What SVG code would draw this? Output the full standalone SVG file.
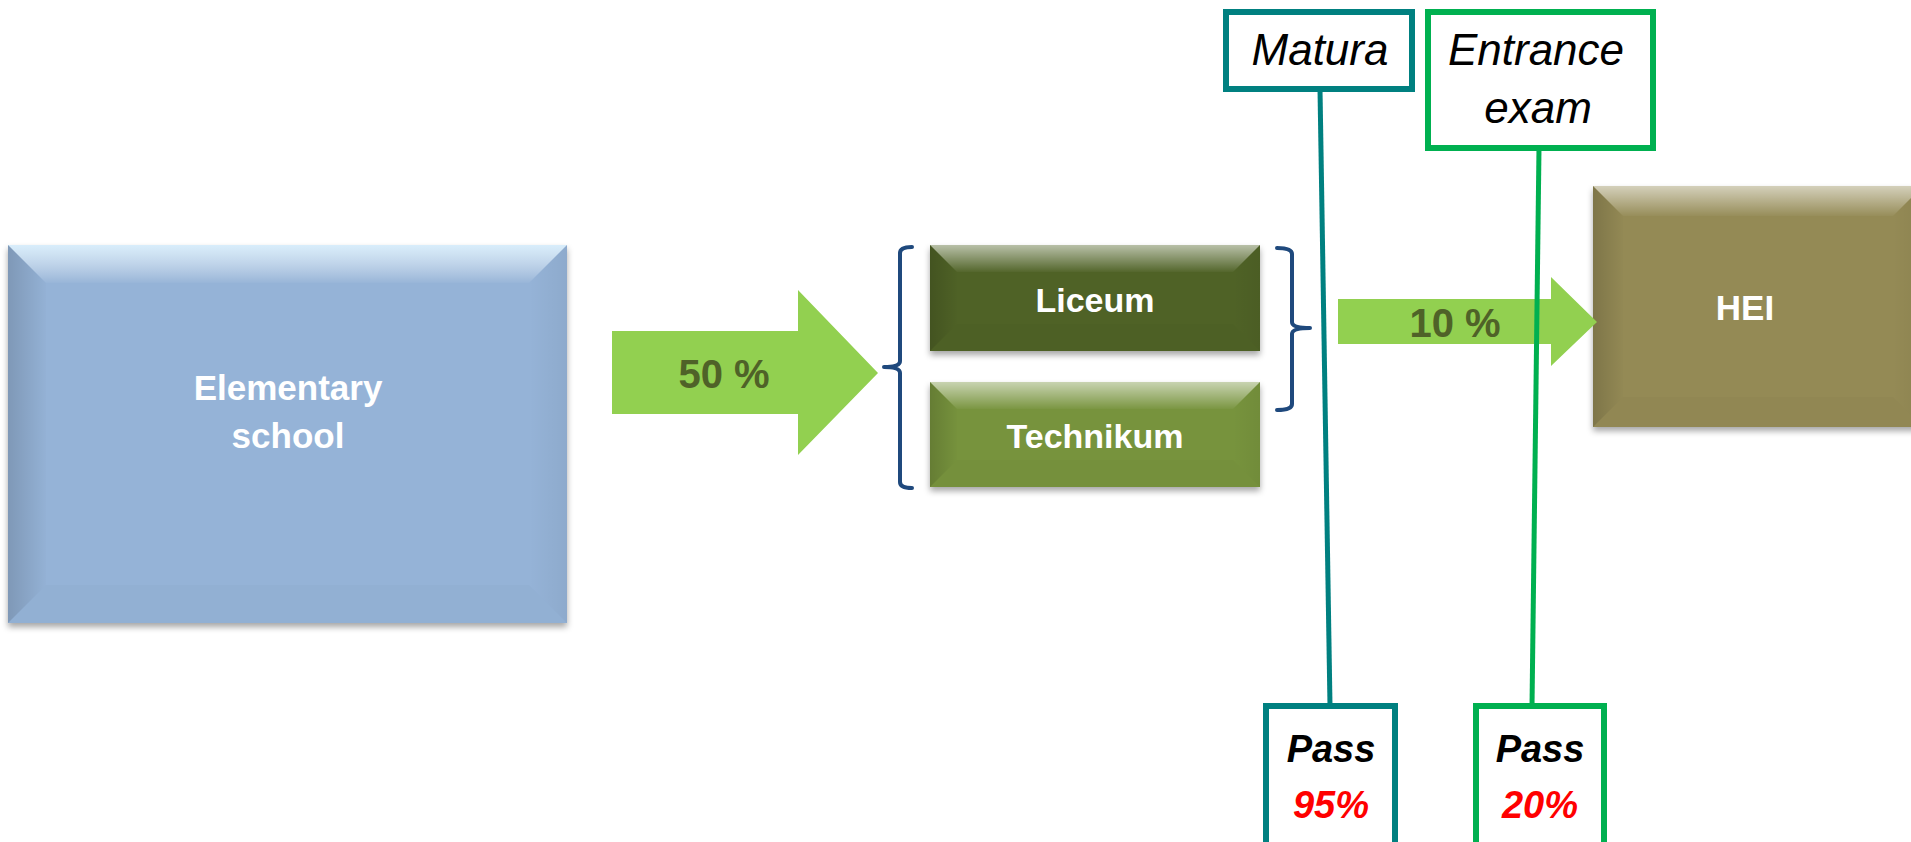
<svg xmlns="http://www.w3.org/2000/svg" width="1911" height="842" viewBox="0 0 1911 842">
<style>
.lbl{font-family:"Liberation Sans",Arial,sans-serif;font-weight:bold;text-anchor:middle;fill:#FFFFFF}
.pct{font-family:"Liberation Sans",Arial,sans-serif;font-weight:bold;text-anchor:middle;fill:#4F6228;font-size:40px}
.exam{font-family:"Liberation Sans",Arial,sans-serif;font-style:italic;text-anchor:middle;fill:#000000;font-size:44px}
.pass{font-family:"Liberation Sans",Arial,sans-serif;font-style:italic;font-weight:bold;text-anchor:middle;font-size:38px}
.teal{fill:#FFFFFF;stroke:#008080;stroke-width:6}
.grn{fill:#FFFFFF;stroke:#00B050;stroke-width:6}
.bt{fill:url(#gTop)}
.bl{fill:url(#gLeft)}
.br{fill:url(#gRight)}
.bb{fill:#000000;fill-opacity:0.015}
.arrow{fill:#92D050}
.brace{fill:none;stroke:#1F497D;stroke-width:4;stroke-linecap:round;stroke-linejoin:round}
</style>
<defs>
<linearGradient id="gTop" x1="0" y1="0" x2="0" y2="1">
<stop offset="0" stop-color="#FFFFFF" stop-opacity="0.6"/>
<stop offset="1" stop-color="#FFFFFF" stop-opacity="0.03"/>
</linearGradient>
<linearGradient id="gLeft" x1="0" y1="0" x2="1" y2="0">
<stop offset="0" stop-color="#000000" stop-opacity="0.15"/>
<stop offset="1" stop-color="#000000" stop-opacity="0.01"/>
</linearGradient>
<linearGradient id="gRight" x1="0" y1="0" x2="1" y2="0">
<stop offset="0" stop-color="#000000" stop-opacity="0"/>
<stop offset="1" stop-color="#000000" stop-opacity="0.05"/>
</linearGradient>
<linearGradient id="gTopBlue" x1="0" y1="0" x2="0" y2="1">
<stop offset="0" stop-color="#E0F4FF" stop-opacity="0.9"/>
<stop offset="1" stop-color="#FFFFFF" stop-opacity="0.03"/>
</linearGradient>
<filter id="sh" x="-5%" y="-5%" width="110%" height="115%">
<feDropShadow dx="0" dy="4" stdDeviation="3" flood-color="#000000" flood-opacity="0.35"/>
</filter>
</defs>

<g id="elementary">
<rect x="8" y="245" width="559" height="378" fill="#95B3D7" filter="url(#sh)"/>
<path fill="url(#gTopBlue)" d="M8,245 L567,245 L529,283 L46,283 Z"/>
<path class="bl" d="M8,245 L46,283 L46,585 L8,623 Z"/>
<path class="br" d="M567,245 L567,623 L529,585 L529,283 Z"/>
<path class="bb" d="M8,623 L567,623 L529,585 L46,585 Z"/>
<text class="lbl" x="288" y="400" font-size="35">Elementary</text>
<text class="lbl" x="288" y="448" font-size="35">school</text>
</g>

<g id="liceum">
<rect x="930" y="245" width="330" height="106" fill="#4F6228" filter="url(#sh)"/>
<path class="bt" d="M930,245 L1260,245 L1233,272 L957,272 Z"/>
<path class="bl" d="M930,245 L957,272 L957,324 L930,351 Z"/>
<path class="br" d="M1260,245 L1260,351 L1233,324 L1233,272 Z"/>
<path class="bb" d="M930,351 L1260,351 L1233,324 L957,324 Z"/>
<text class="lbl" x="1095" y="312" font-size="34">Liceum</text>
</g>

<g id="technikum">
<rect x="930" y="382" width="330" height="105" fill="#77933C" filter="url(#sh)"/>
<path class="bt" d="M930,382 L1260,382 L1233,409 L957,409 Z"/>
<path class="bl" d="M930,382 L957,409 L957,460 L930,487 Z"/>
<path class="br" d="M1260,382 L1260,487 L1233,460 L1233,409 Z"/>
<path class="bb" d="M930,487 L1260,487 L1233,460 L957,460 Z"/>
<text class="lbl" x="1095" y="448" font-size="34">Technikum</text>
</g>

<g id="hei">
<rect x="1593" y="186" width="330" height="241" fill="#948A54" filter="url(#sh)"/>
<path class="bt" d="M1593,186 L1923,186 L1893,216 L1623,216 Z"/>
<path class="bl" d="M1593,186 L1623,216 L1623,397 L1593,427 Z"/>
<path class="br" d="M1923,186 L1923,427 L1893,397 L1893,216 Z"/>
<path class="bb" d="M1593,427 L1923,427 L1893,397 L1623,397 Z"/>
<text class="lbl" x="1745" y="320" font-size="35">HEI</text>
</g>

<g id="matura">
<rect class="teal" x="1226" y="12" width="186" height="77"/>
<text class="exam" x="1320" y="65">Matura</text>
</g>

<g id="entrance-exam">
<rect class="grn" x="1428" y="12" width="225" height="136"/>
<text class="exam" x="1536" y="65">Entrance</text>
<text class="exam" x="1538" y="123">exam</text>
</g>

<g id="matura-pass">
<rect class="teal" x="1266" y="706" width="129" height="160"/>
<text class="pass" x="1331" y="762" fill="#000000">Pass</text>
<text class="pass" x="1331" y="818" fill="#FF0000">95%</text>
</g>

<g id="entrance-pass">
<rect class="grn" x="1476" y="706" width="128" height="160"/>
<text class="pass" x="1540" y="762" fill="#000000">Pass</text>
<text class="pass" x="1540" y="818" fill="#FF0000">20%</text>
</g>

<g id="connectors">
<g id="arrow-50">
<path class="arrow" d="M612,331 L798,331 L798,290 L878,373 L798,455 L798,414 L612,414 Z"/>
<text class="pct" x="724" y="388">50 %</text>
</g>
<g id="arrow-10">
<path class="arrow" d="M1338,299 L1551,299 L1551,277 L1597,322 L1551,366 L1551,344 L1338,344 Z"/>
<text class="pct" x="1455" y="337">10 %</text>
</g>
<path class="brace" d="M912,247 Q900,247 900,253 L900,361 Q900,367 884,367 Q900,367 900,373 L900,482 Q900,488 912,488"/>
<path class="brace" d="M1277,248 Q1292,248 1292,254 L1292,322 Q1292,328 1310,328 Q1292,328 1292,334 L1292,404 Q1292,410 1277,410"/>
<line x1="1320" y1="89" x2="1330" y2="706" stroke="#008080" stroke-width="5"/>
<line x1="1539" y1="148" x2="1532" y2="706" stroke="#00B050" stroke-width="5"/>
</g>
</svg>
